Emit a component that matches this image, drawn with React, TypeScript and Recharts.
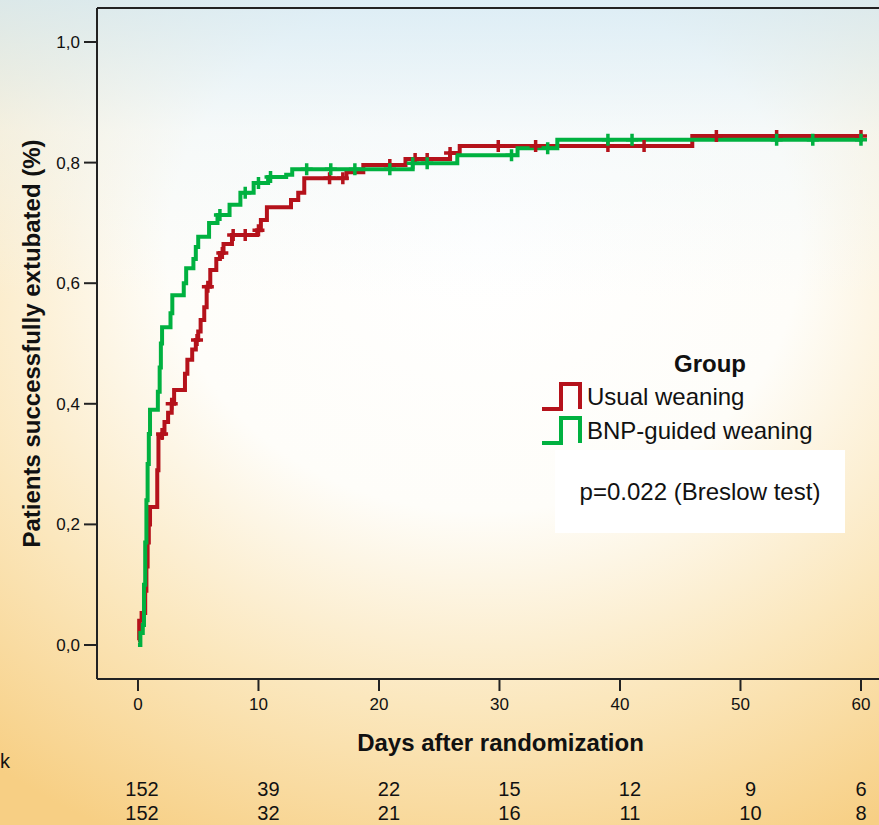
import {
  ComposedChart,
  Line,
  Scatter,
  XAxis,
  YAxis,
  ReferenceLine,
} from 'recharts';

// Kaplan-Meier steps (day, cumulative proportion extubated)
const usualDays = [0, 0.1, 0.3, 0.6, 0.7, 0.8, 0.9, 1.0, 1.6, 1.7, 2.0, 2.2, 2.5, 2.8, 3.0, 3.9, 4.1, 4.5, 4.8, 5.0, 5.2, 5.5, 5.7, 6.0, 6.5, 6.8, 7.1, 7.8, 9.9, 10.2, 10.7, 12.7, 13.3, 13.8, 17.3, 18.7, 22.2, 25.9, 26.7, 46.0, 60];
const usualProp = [0.008, 0.04, 0.053, 0.09, 0.13, 0.17, 0.2, 0.229, 0.29, 0.345, 0.35, 0.37, 0.385, 0.4, 0.423, 0.45, 0.473, 0.49, 0.506, 0.52, 0.539, 0.56, 0.594, 0.622, 0.64, 0.65, 0.665, 0.68, 0.688, 0.705, 0.726, 0.738, 0.75, 0.774, 0.784, 0.796, 0.806, 0.816, 0.8275, 0.844, 0.844];

const bnpDays = [0, 0.2, 0.4, 0.5, 0.6, 0.7, 0.8, 0.9, 1.0, 1.65, 1.8, 1.9, 2.0, 2.7, 2.85, 3.8, 4.0, 4.6, 4.8, 5.0, 5.9, 6.6, 7.6, 8.5, 9.6, 10.8, 12.3, 12.8, 22.8, 26.5, 31.5, 34.8, 60];
const bnpProp = [0, 0.02, 0.033, 0.1, 0.17, 0.24, 0.3, 0.35, 0.39, 0.42, 0.46, 0.5, 0.527, 0.55, 0.58, 0.6, 0.625, 0.64, 0.66, 0.677, 0.7, 0.713, 0.73, 0.75, 0.766, 0.776, 0.78, 0.789, 0.799, 0.812, 0.824, 0.838, 0.838];

// censored observations (days)
const usualCensored = [2.0, 2.8, 4.9, 5.8, 7.0, 7.9, 8.9, 10.0, 15.9, 17.0, 20.9, 23.0, 24.0, 25.9, 29.9, 33.0, 39.0, 42.0, 48.0, 53.0, 60.0];
const bnpCensored = [6.8, 8.9, 10.0, 11.0, 14.0, 16.0, 18.0, 20.9, 22.8, 24.0, 31.0, 34.0, 39.0, 41.0, 53.0, 56.0, 60.0];

const dayTicks = [0, 10, 20, 30, 40, 50, 60];
const propTicks = [0, 0.2, 0.4, 0.6, 0.8, 1.0];
const atRiskUsual = [152, 39, 22, 15, 12, 9, 6];
const atRiskBnp = [152, 32, 21, 16, 11, 10, 8];

const RED = '#b5121b';
const GREEN = '#00b140';
const FONT = '"Liberation Sans", Arial, sans-serif';

const xDomain = [-3.4, 63.57];
const yDomain = [-0.0564, 1.0564];

const toSteps = (days: number[], prop: number[]) =>
  days.map((d, i) => ({ day: d, p: prop[i] }));

const valueAt = (days: number[], prop: number[], t: number) => {
  let v = prop[0];
  for (let i = 0; i < days.length; i++) {
    if (days[i] <= t) v = prop[i];
  }
  return v;
};

const usualData = toSteps(usualDays, usualProp);
const bnpData = toSteps(bnpDays, bnpProp);
const usualMarks = usualCensored.map((d) => ({ day: d, p: valueAt(usualDays, usualProp, d) }));
const bnpMarks = bnpCensored.map((d) => ({ day: d, p: valueAt(bnpDays, bnpProp, d) }));

const plusShape = (color: string) => (props: any) => {
  const { cx, cy } = props;
  return (
    <path
      d={`M${cx - 6},${cy}h12M${cx},${cy - 6}v12`}
      stroke={color}
      strokeWidth={3.5}
      fill="none"
    />
  );
};

function DayTick(props: any) {
  const { x, y, payload, index } = props;
  // risk table numbers sit a little right of the ticks, except at the edges
  const dx = index === 0 ? 4 : index === dayTicks.length - 1 ? 0 : 10;
  return (
    <g>
      <text x={x} y={y + 17} textAnchor="middle" fontSize={17} fill="#111" fontFamily={FONT}>
        {payload.value}
      </text>
      <text x={x + dx} y={y + 103} textAnchor="middle" fontSize={20} fill="#111" fontFamily={FONT}>
        {atRiskUsual[index]}
      </text>
      <text x={x + dx} y={y + 127} textAnchor="middle" fontSize={20} fill="#111" fontFamily={FONT}>
        {atRiskBnp[index]}
      </text>
    </g>
  );
}

function StepIcon({ color }: { color: string }) {
  return (
    <svg width={42} height={30} style={{ display: 'block' }}>
      <path d="M2,27 H21 V2 H40 V27" stroke={color} strokeWidth={4} fill="none" />
    </svg>
  );
}

export default function App() {
  return (
    <div
      style={{
        position: 'relative',
        width: 879,
        height: 825,
        overflow: 'hidden',
        fontFamily: FONT,
        background:
          'linear-gradient(180deg, rgba(212,233,244,0.8) 0%, rgba(236,245,249,0.45) 16%, rgba(255,255,255,0) 36%), radial-gradient(ellipse 90% 80% at 55% 30%, #ffffff 0%, #fefdf9 40%, #fbe7bd 70%, #f7cf84 100%)',
      }}
    >
      <style>{'body{margin:0}'}</style>
      <ComposedChart
        width={904}
        height={825}
        margin={{ top: 8, right: 0, bottom: 0, left: 0 }}
        style={{ position: 'absolute', left: 0, top: 0 }}
      >
        <XAxis
          dataKey="day"
          type="number"
          domain={xDomain}
          ticks={dayTicks}
          allowDataOverflow
          height={146}
          stroke="#222"
          tickSize={12}
          tick={<DayTick />}
          axisLine={{ stroke: '#222', strokeWidth: 2 }}
          tickLine={{ stroke: '#222', strokeWidth: 2 }}
          label={{
            value: 'Days after randomization',
            position: 'insideTop',
            offset: 55,
            style: { fontSize: 24, fontWeight: 'bold', fill: '#111', fontFamily: FONT },
          }}
        />
        <YAxis
          dataKey="p"
          type="number"
          domain={yDomain}
          ticks={propTicks}
          allowDataOverflow
          width={97}
          tickSize={13}
          tickMargin={4}
          tickFormatter={(v: number) => v.toFixed(1).replace('.', ',')}
          tick={{ fontSize: 17, fill: '#111', fontFamily: FONT }}
          axisLine={{ stroke: '#222', strokeWidth: 2 }}
          tickLine={{ stroke: '#222', strokeWidth: 2 }}
          label={{
            value: 'Patients successfully extubated (%)',
            angle: -90,
            position: 'insideLeft',
            offset: 31,
            style: { fontSize: 24, fontWeight: 'bold', fill: '#111', fontFamily: FONT, textAnchor: 'middle' },
          }}
        />
        <ReferenceLine y={yDomain[1]} stroke="#222" strokeWidth={2} ifOverflow="extendDomain" />
        <Line
          data={usualData}
          dataKey="p"
          type="stepAfter"
          stroke={RED}
          strokeWidth={4}
          dot={false}
          isAnimationActive={false}
        />
        <Line
          data={bnpData}
          dataKey="p"
          type="stepAfter"
          stroke={GREEN}
          strokeWidth={4}
          dot={false}
          isAnimationActive={false}
        />
        <Scatter data={usualMarks} dataKey="p" shape={plusShape(RED)} isAnimationActive={false} />
        <Scatter data={bnpMarks} dataKey="p" shape={plusShape(GREEN)} isAnimationActive={false} />
      </ComposedChart>

      {/* only the tail of the "at risk" caption is visible in the source */}
      <div style={{ position: 'absolute', left: 0, top: 750, fontSize: 20, color: '#111' }}>k</div>

      <div style={{ position: 'absolute', left: 540, top: 350, color: '#111' }}>
        <div style={{ fontSize: 24, fontWeight: 'bold', width: 340, textAlign: 'center', lineHeight: '28px' }}>
          Group
        </div>
        <div style={{ display: 'flex', alignItems: 'center', height: 34, marginTop: 2 }}>
          <StepIcon color={RED} />
          <span style={{ fontSize: 24, marginLeft: 5 }}>Usual weaning</span>
        </div>
        <div style={{ display: 'flex', alignItems: 'center', height: 34 }}>
          <StepIcon color={GREEN} />
          <span style={{ fontSize: 24, marginLeft: 5 }}>BNP-guided weaning</span>
        </div>
      </div>

      <div
        style={{
          position: 'absolute',
          left: 555,
          top: 450,
          width: 290,
          height: 83,
          background: '#fff',
          display: 'flex',
          alignItems: 'center',
          justifyContent: 'center',
          fontSize: 24,
          color: '#111',
        }}
      >
        p=0.022 (Breslow test)
      </div>
    </div>
  );
}
